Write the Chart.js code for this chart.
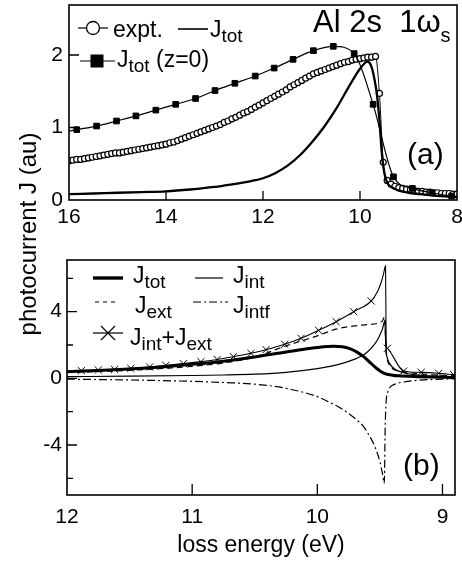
<!DOCTYPE html>
<html><head><meta charset="utf-8">
<script src="https://cdn.jsdelivr.net/npm/chart.js@4.4.1/dist/chart.umd.min.js"></script>
<style>
html,body{margin:0;padding:0;background:#fff;}
#wrap{position:relative;width:462px;height:563px;overflow:hidden;font-family:"Liberation Sans",Arial,sans-serif;color:#000;background:#fff;}
canvas{position:absolute;left:0;}
.t{position:absolute;white-space:nowrap;line-height:1;font-size:23px;}
.t sub{font-size:19px;vertical-align:baseline;position:relative;top:5px;}
#ytitle{position:absolute;left:28px;top:234px;transform:translate(-50%,-50%) rotate(-90deg);white-space:nowrap;font-size:24px;line-height:1.15;}
</style></head><body>
<div id="wrap">
<canvas id="top" width="462" height="240" style="top:0"></canvas>
<canvas id="bot" width="462" height="313" style="top:250px"></canvas>
<svg width="462" height="563" style="position:absolute;left:0;top:0">
 <g stroke="#000" fill="none">
  <line x1="78" y1="28" x2="108" y2="28" stroke-width="1.2"/>
  <circle cx="93" cy="28" r="6.5" fill="#fff" stroke-width="1.3"/>
  <line x1="178" y1="29" x2="208" y2="29" stroke-width="1.6"/>
  <line x1="80" y1="61" x2="115" y2="61" stroke-width="1.2"/>
  <rect x="91" y="55" width="12" height="12" fill="#000"/>
  <line x1="93" y1="278" x2="123" y2="278" stroke-width="3.4"/>
  <line x1="195" y1="278" x2="223" y2="278" stroke-width="1.2"/>
  <line x1="95" y1="302" x2="117" y2="302" stroke-width="1.2" stroke-dasharray="4 4"/>
  <line x1="193" y1="302" x2="228" y2="302" stroke-width="1.2" stroke-dasharray="8 3 2 3"/>
  <line x1="93" y1="333" x2="123" y2="333" stroke-width="1.2"/>
  <path d="M101 326 L115 340 M101 340 L115 326" stroke-width="1.2"/>
 </g>
</svg>
<div class="t" style="left:113px;top:17.5px">expt.</div>
<div class="t" style="left:210px;top:17.5px">J<sub>tot</sub></div>
<div class="t" style="left:117px;top:47.5px">J<sub>tot</sub> (z=0)</div>
<div class="t" style="left:313px;top:5.5px;font-size:31px">Al 2s&nbsp;&nbsp;1ω<sub style="font-size:20px;top:10px">s</sub></div>
<div class="t" style="left:407px;top:138.6px;font-size:30px">(a)</div>
<div class="t" style="left:403px;top:449.6px;font-size:30px">(b)</div>
<div class="t" style="left:133px;top:263.5px">J<sub>tot</sub></div>
<div class="t" style="left:233px;top:263.5px">J<sub>int</sub></div>
<div class="t" style="left:135px;top:293.5px">J<sub>ext</sub></div>
<div class="t" style="left:233px;top:293.5px">J<sub>intf</sub></div>
<div class="t" style="left:130px;top:325.5px">J<sub>int</sub>+J<sub>ext</sub></div>
<div id="ytitle">photocurrent J (au)</div>
</div>
<script>
// ---------- panel (a) data ----------
const topXTicks = [16, 14, 12, 10, 8];
const topYTicks = [0, 1, 2];
const exptX = [16.00,15.92,15.84,15.76,15.68,15.60,15.52,15.44,15.36,15.28,15.20,15.12,15.04,14.96,14.88,14.80,14.72,14.64,14.56,14.48,14.40,14.32,14.24,14.16,14.08,14.00,13.92,13.84,13.76,13.68,13.60,13.52,13.44,13.36,13.28,13.20,13.12,13.04,12.96,12.88,12.80,12.72,12.64,12.56,12.48,12.40,12.32,12.24,12.16,12.08,12.00,11.92,11.84,11.76,11.68,11.60,11.52,11.44,11.36,11.28,11.20,11.12,11.04,10.96,10.88,10.80,10.72,10.64,10.56,10.48,10.40,10.32,10.24,10.16,10.08,10.00,9.92,9.84,9.76,9.68,9.60,9.52,9.44,9.36,9.28,9.20,9.12,9.04,8.96,8.88,8.80,8.72,8.64,8.56,8.48,8.40,8.32,8.24,8.16,8.08,8.00];
const exptY = [0.54,0.55,0.56,0.56,0.57,0.58,0.59,0.60,0.61,0.62,0.63,0.64,0.65,0.65,0.66,0.67,0.68,0.69,0.70,0.71,0.72,0.73,0.74,0.75,0.76,0.77,0.79,0.80,0.82,0.84,0.86,0.88,0.90,0.92,0.94,0.96,0.98,1.00,1.02,1.04,1.07,1.09,1.12,1.14,1.17,1.20,1.22,1.25,1.28,1.31,1.34,1.37,1.40,1.43,1.46,1.49,1.52,1.56,1.59,1.62,1.65,1.68,1.71,1.74,1.76,1.78,1.80,1.82,1.84,1.86,1.88,1.90,1.91,1.93,1.94,1.95,1.96,1.97,1.97,1.98,1.47,0.52,0.27,0.22,0.19,0.17,0.16,0.15,0.14,0.13,0.12,0.12,0.11,0.11,0.10,0.10,0.09,0.09,0.09,0.08,0.08];
const jtotAX = [16,15.5,15,14.5,14,13.5,13,12.75,12.5,12.25,12,11.75,11.5,11.25,11,10.75,10.5,10.25,10.1,10,9.9,9.85,9.8,9.75,9.7,9.65,9.6,9.55,9.5,9.45,9.4,9.3,9.2,9,8.75,8.5,8.25,8];
const jtotAY = [0.08,0.09,0.10,0.11,0.12,0.145,0.18,0.205,0.23,0.26,0.30,0.37,0.47,0.61,0.79,1.00,1.25,1.54,1.71,1.81,1.89,1.91,1.89,1.81,1.66,1.45,1.10,0.65,0.38,0.26,0.20,0.16,0.13,0.10,0.08,0.06,0.05,0.04];
const zX = [15.84,15.43,15.02,14.62,14.21,13.80,13.39,12.99,12.58,12.16,11.77,11.38,10.96,10.55,10.12,9.73,9.31,8.92,8.52,8.11];
const zY = [0.97,1.02,1.09,1.16,1.24,1.32,1.40,1.51,1.61,1.71,1.82,1.94,2.06,2.12,2.02,1.32,0.32,0.16,0.10,0.055];
const zEndX = [16.00, 8.00];
const zEndY = [0.95, 0.05];

// ---------- panel (b) data ----------
const botXTicks = [12, 11, 10, 9];
const botYTicks = [-6, -4, -2, 0, 2, 4, 6];
const botYLabels = [-4, 0, 4];
const jtotBX = [12.0,11.75,11.5,11.25,11.0,10.75,10.5,10.25,10.0,9.87,9.8,9.74,9.68,9.63,9.58,9.53,9.49,9.45,9.4,9.35,9.2,9.0,8.9];
const jtotBY = [0.40,0.47,0.56,0.68,0.84,1.03,1.28,1.58,1.85,1.93,1.90,1.78,1.56,1.30,0.96,0.62,0.40,0.26,0.19,0.15,0.10,0.06,0.05];
const jintX = [12.0,11.5,11.0,10.75,10.5,10.25,10.0,9.9,9.8,9.7,9.65,9.6,9.55,9.52,9.5,9.48,9.46,9.455,9.45,9.44,9.42,9.38,9.3,9.2,9.0,8.9];
const jintY = [0.10,0.13,0.17,0.20,0.25,0.36,0.58,0.72,0.90,1.15,1.32,1.58,1.98,2.30,2.60,2.95,3.45,2.40,1.60,1.20,0.85,0.55,0.32,0.20,0.12,0.10];
const jextX = [12.0,11.5,11.0,10.75,10.5,10.25,10.0,9.85,9.7,9.6,9.52,9.48,9.46,9.455,9.45,9.44,9.42,9.38,9.34,9.25,9.1,8.9];
const jextY = [0.35,0.48,0.72,0.92,1.28,1.95,2.55,2.95,3.15,3.22,3.30,3.45,3.70,2.40,1.60,1.10,0.75,0.50,0.42,0.32,0.22,0.15];
const jintfX = [12.0,11.5,11.0,10.75,10.5,10.25,10.0,9.9,9.8,9.7,9.63,9.58,9.54,9.5,9.48,9.465,9.458,9.45,9.44,9.42,9.38,9.31,9.2,9.0,8.9];
const jintfY = [-0.05,-0.10,-0.18,-0.25,-0.35,-0.60,-1.10,-1.45,-1.85,-2.40,-2.90,-3.50,-4.10,-5.00,-5.70,-6.30,-3.00,-1.40,-0.90,-0.55,-0.35,-0.22,-0.12,-0.05,-0.03];
const jsumX = [11.885,11.75,11.62,11.49,11.34,11.21,11.07,10.93,10.80,10.67,10.53,10.41,10.26,10.13,9.99,9.85,9.71,9.57,9.44,9.31,9.17,9.03,8.91];
const jsumY = [0.46,0.50,0.54,0.60,0.68,0.78,0.88,1.00,1.13,1.30,1.50,1.72,2.04,2.40,2.88,3.40,4.00,4.64,1.80,0.44,0.36,0.30,0.22];
const jsumExtraX = [12.0, 9.52, 9.49, 9.47, 9.455, 9.45];
const jsumExtraY = [0.44, 5.20, 5.75, 6.30, 6.75, 2.20];

// ---------- helpers ----------
const pts = (xs, ys) => xs.map((x, i) => ({x, y: ys[i]}));
const merged = (a, b) => a.concat(b).sort((p, q) => q.x - p.x);
const FONT = '"Liberation Sans", Arial, sans-serif';

const frameTicks = {
  id: 'frameTicks',
  afterDraw(chart, args, o) {
    const {ctx, chartArea: a} = chart;
    const x = chart.scales.x, y = chart.scales.y;
    ctx.save();
    ctx.strokeStyle = '#000';
    ctx.lineWidth = 1.6;
    ctx.strokeRect(a.left, a.top, a.right - a.left, a.bottom - a.top);
    ctx.lineWidth = 1.3;
    ctx.beginPath();
    o.xTicks.forEach(v => {
      const p = x.getPixelForValue(v);
      ctx.moveTo(p, a.bottom); ctx.lineTo(p, a.bottom - o.xLen);
    });
    o.yTicks.forEach(v => {
      const p = y.getPixelForValue(v);
      const len = o.yMajor.includes(v) ? o.yLen : o.yMinorLen;
      ctx.moveTo(a.left, p); ctx.lineTo(a.left + len, p);
    });
    ctx.stroke();
    ctx.restore();
  }
};

function axisX(min, max, ticks, height, pad, title) {
  const s = {
    type: 'linear', reverse: true, min, max,
    grid: {display: false, drawTicks: false}, border: {display: false},
    afterBuildTicks: sc => { sc.ticks = ticks.map(v => ({value: v})); },
    afterFit: sc => { sc.height = height; sc.paddingLeft = 0; sc.paddingRight = 0; },
    ticks: {color: '#000', font: {family: FONT, size: 21}, padding: pad, autoSkip: false, maxRotation: 0, callback: v => String(v)}
  };
  if (title) s.title = {display: true, text: title, color: '#000', font: {family: FONT, size: 23}, padding: {top: 0, bottom: 4}};
  return s;
}
function axisY(min, max, ticks, labels, width, pad) {
  return {
    type: 'linear', min, max,
    grid: {display: false, drawTicks: false}, border: {display: false},
    afterBuildTicks: sc => { sc.ticks = ticks.map(v => ({value: v})); },
    afterFit: sc => { sc.width = width; sc.paddingTop = 0; sc.paddingBottom = 0; },
    ticks: {color: '#000', font: {family: FONT, size: 21}, padding: pad, autoSkip: false, callback: v => labels.includes(v) ? String(v) : ''}
  };
}
const common = {
  responsive: false, animation: false, devicePixelRatio: 1,
  plugins: {legend: {display: false}, tooltip: {enabled: false}},
  elements: {line: {borderColor: '#000', cubicInterpolationMode: 'monotone', fill: false}, point: {radius: 0, hoverRadius: 0}}
};

new Chart(document.getElementById('top'), {
  type: 'line',
  data: {datasets: [
    {data: pts(jtotAX, jtotAY), borderColor: '#000', borderWidth: 2.3, pointRadius: 0},
    {data: merged(pts(zX, zY), pts(zEndX, zEndY)), borderColor: '#000', borderWidth: 1.2, pointRadius: 0},
    {data: pts(zX, zY), showLine: false, pointStyle: 'rect', pointRadius: 4, pointBackgroundColor: '#000', pointBorderColor: '#000', pointBorderWidth: 1},
    {data: pts(exptX, exptY), borderColor: '#000', borderWidth: 1, pointStyle: 'circle', pointRadius: 3, pointBackgroundColor: '#fff', pointBorderColor: '#000', pointBorderWidth: 1.2}
  ]},
  options: Object.assign({}, common, {
    layout: {padding: {top: 5, right: 5, left: 0, bottom: 0}},
    scales: {x: axisX(8, 16, topXTicks, 40, 5), y: axisY(0, 2.69, topYTicks, topYTicks, 69, 6)},
    plugins: Object.assign({}, common.plugins, {frameTicks: {xTicks: topXTicks.slice(1, -1), xLen: 9, yTicks: topYTicks.slice(1), yMajor: topYTicks, yLen: 10, yMinorLen: 6}})
  }),
  plugins: [frameTicks]
});

new Chart(document.getElementById('bot'), {
  type: 'line',
  data: {datasets: [
    {data: pts(jtotBX, jtotBY), borderColor: '#000', borderWidth: 3, pointRadius: 0},
    {data: pts(jintX, jintY), borderColor: '#000', borderWidth: 1.2, pointRadius: 0},
    {data: pts(jextX, jextY), borderColor: '#000', borderWidth: 1.2, borderDash: [6, 4], pointRadius: 0},
    {data: pts(jintfX, jintfY), borderColor: '#000', borderWidth: 1.2, borderDash: [8, 3, 2, 3], pointRadius: 0},
    {data: merged(pts(jsumX, jsumY), pts(jsumExtraX, jsumExtraY)), borderColor: '#000', borderWidth: 1.1, pointRadius: 0},
    {data: pts(jsumX, jsumY), showLine: false, pointStyle: 'crossRot', pointRadius: 5, pointBorderColor: '#000', pointBorderWidth: 1}
  ]},
  options: Object.assign({}, common, {
    layout: {padding: {top: 10, right: 7, left: 0, bottom: 0}},
    scales: {x: axisX(8.9, 12, botXTicks, 68, 10, 'loss energy (eV)'), y: axisY(-7, 7.1, botYTicks, botYLabels, 67, 5)},
    plugins: Object.assign({}, common.plugins, {frameTicks: {xTicks: botXTicks.slice(1), xLen: 11, yTicks: botYTicks, yMajor: botYLabels, yLen: 10, yMinorLen: 6}})
  }),
  plugins: [frameTicks]
});
</script>
</body></html>
